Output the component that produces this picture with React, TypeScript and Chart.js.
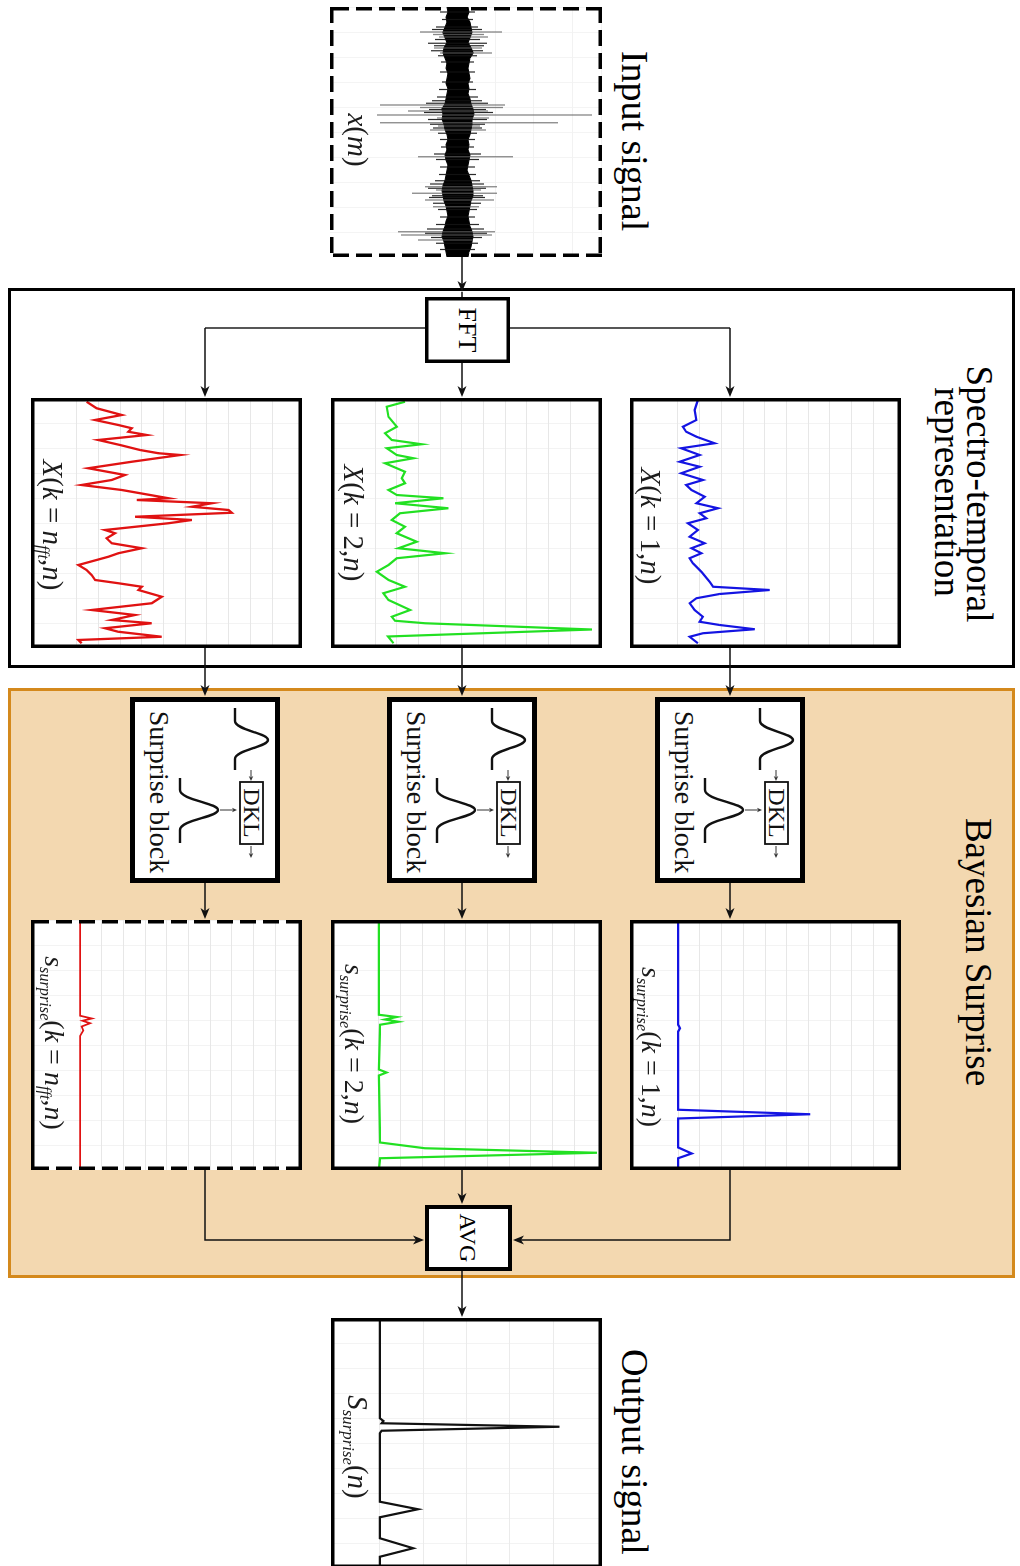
import React, { useEffect, useRef } from "react";
import { Chart, registerables } from "chart.js";

Chart.register(...registerables);

// ---------------- data (time axis 0..100 across each panel) ----------------
// Input signal x(m): dense core envelope (50 equal bins), short hairs and isolated spikes
const inputBandLo = [-1.1,-1.0,-1.2,-1.1,-1.3,-1.5,-1.3,-1.1,-1.4,-1.5,-1.3,-1.1,-1.2,-1.0,-1.1,-1.2,-1.0,-1.1,-1.2,-1.3,-1.6,-1.5,-1.6,-1.4,-1.3,-1.1,-1.0,-1.2,-1.1,-1.3,-1.2,-1.0,-1.1,-1.2,-1.3,-1.5,-1.6,-1.5,-1.4,-1.2,-1.1,-1.0,-1.2,-1.3,-1.5,-1.6,-1.4,-1.3,-1.2,-1.1];
const inputBandHi = [1.0,1.1,0.9,1.2,1.3,1.4,1.2,1.0,1.3,1.5,1.2,1.1,1.0,1.1,1.2,1.0,1.1,1.0,1.2,1.3,1.5,1.6,1.4,1.4,1.3,1.2,1.0,1.1,1.0,1.2,1.1,1.0,0.9,1.1,1.3,1.4,1.5,1.5,1.3,1.2,1.1,1.0,1.1,1.2,1.4,1.5,1.4,1.3,1.1,1.0];
const hairT = [2,5,8,9,13,14.5,15.5,17.5,19.5,22,26,30,33,36,37.5,38.5,41,42.2,45,46.9,48.4,50.5,53,56,58.8,61,64,67,69.5,70.8,72.5,75.5,76.2,78.5,81,84,87,88.8,90.5,92.2,94.5,97];
const hairLo = [-1.8,-1.6,-2.2,-2.6,-2.3,-3.0,-2.4,-2.7,-2.0,-1.7,-1.8,-1.6,-1.9,-2.1,-2.6,-3.2,-2.9,-3.4,-3.0,-2.8,-2.5,-2.0,-1.8,-1.7,-2.4,-2.2,-1.8,-1.9,-2.3,-2.8,-3.0,-2.6,-2.9,-2.5,-2.0,-1.8,-2.2,-3.1,-3.3,-2.7,-2.2,-1.8];
const hairHi = [1.7,1.5,2.0,2.4,2.2,2.9,2.6,2.5,1.9,1.6,1.7,1.5,1.8,2.0,2.4,3.0,2.8,3.5,2.9,2.7,2.4,1.9,1.7,1.6,2.3,2.1,1.7,1.8,2.2,2.6,2.8,2.5,2.7,2.3,1.9,1.7,2.1,2.6,2.9,2.4,2.0,1.7];
const spikeT = [10.0,11.0,12.0,16.4,18.4,39.2,40.2,41.6,43.2,44.4,46.3,47.6,49.2,59.9,71.9,73.2,74.5,77.2,79.9,89.9,91.2,93.2];
const spikeLo = [-3.8,-2.5,-1.9,-2.4,-1.8,-7.8,-3.8,-5.0,-8.1,-2.1,-7.8,-2.0,-2.8,-4.0,-3.3,-2.2,-4.6,-3.3,-2.5,-6.0,-5.7,-4.0];
const spikeHi = [4.4,2.6,3.0,2.4,3.4,4.7,4.5,3.0,13.4,3.1,10.0,2.2,2.8,5.5,3.9,2.3,3.9,3.6,2.1,3.7,3.4,1.5];

// Spectro-temporal bins X(k, n)
const blueXT = [0.8,4.8,8.8,11.5,13.5,15.5,18.1,20.1,22.8,25.5,27.5,30.1,32.8,34.8,36.8,39.5,42.1,44.1,46.1,48.1,50.1,52.8,55.5,58.1,60.1,62.1,64.1,66.1,69.5,73.5,75.5,76.8,78.4,80.1,82.1,84.8,87.5,89.5,90.8,92.5,94.1,95.5,98.1];
const blueXV = [0.92,0.77,0.85,0.23,0.38,0.85,1.69,0.15,1.0,0.08,1.0,0.15,1.15,0.38,0.62,1.23,0.85,1.85,1.0,1.31,0.46,0.92,0.54,1.23,0.62,1.08,0.54,0.69,1.08,1.46,1.62,4.23,1.92,0.85,0.54,0.77,1.15,1.0,1.92,3.54,1.15,0.54,0.92];
const greenXT = [1.5,3.5,7.5,11.5,14.1,16.8,18.5,20.1,22.8,24.1,26.1,29.5,32.1,34.1,36.8,38.8,40.1,42.1,44.1,46.1,48.8,51.5,54.1,57.5,60.1,62.1,64.1,66.8,69.5,72.8,75.5,78.1,80.8,84.8,87.5,89.1,90.1,92.6,95.4,98.1];
const greenXV = [1.38,0.54,0.62,1.0,0.46,0.77,2.15,0.54,1.0,1.77,0.46,1.38,1.23,1.38,0.62,1.0,3.15,0.92,3.38,1.15,0.77,1.38,1.0,1.92,1.08,3.23,1.0,0.62,0.08,0.62,1.38,0.38,0.62,1.62,0.77,0.92,2.3,10.0,0.6,0.85];
const redXT = [1.5,4.1,6.8,8.8,10.8,12.1,13.5,14.8,16.8,18.8,20.8,22.1,22.8,25.5,28.1,30.8,32.8,34.8,36.8,40.1,40.8,42.1,43.5,44.8,45.9,47.5,48.8,50.1,52.8,54.1,56.1,58.1,60.1,62.1,63.5,66.8,68.8,70.8,72.8,74.1,75.5,76.8,79.5,82.1,84.8,86.8,88.8,90.1,92.1,93.5,95.5,96.8,98.1];
const redXV = [0.46,0.92,2.08,0.85,1.92,2.54,2.38,3.23,1.0,2.0,2.92,3.77,4.77,2.54,0.54,2.23,1.62,0.23,2.08,4.23,2.77,6.23,5.31,7.0,7.15,2.69,5.31,4.23,1.31,1.77,1.38,1.62,3.0,1.92,1.46,0.08,0.46,0.69,0.85,1.92,3.0,2.85,3.92,3.46,0.69,2.69,1.62,3.46,1.31,1.92,3.92,0.08,0.23];

// Surprise per bin s_surprise(k, n)
const sBlueT = [0,41.9,43.3,44.6,75.9,77.7,79.4,91.0,93.4,95.3,100];
const sBlueV = [0,0,0.08,0,0,6.08,0,0,0.62,0,0];
const sGreenT = [0,37.9,38.8,39.8,40.7,41.9,59.8,61.0,62.2,89.0,91.3,93.1,95.3,100];
const sGreenV = [0,0,0.82,0.28,0.89,0.05,0,0.35,0,0.05,2.12,10.05,0.05,0];
const sRedT = [0,38.3,39.4,40.3,41.3,42.6,44.2,46.4,100];
const sRedV = [0,0,0.54,0.11,0.46,0.08,0.15,0,0];

// Output S_surprise(n)
const outT = [0,40.1,41.2,42.1,43.5,45.1,46.1,73.5,76.5,79.7,88.1,92.1,95.5,100];
const outV = [0,0,0.08,0.04,4.15,0.04,0,0,0.88,0,0,0.77,0,0];

// ---------------- helpers ----------------
const W = 1566;
const H = 1020;
const SERIF = '"Liberation Serif", "Times New Roman", Times, "DejaVu Serif", serif';
const BLUE = "#1414e2";
const GREEN = "#22e022";
const RED = "#e01212";

const pts = (t: number[], v: number[]) => t.map((x, i) => ({ x, y: v[i] }));

function segPts(t: number[], lo: number[], hi: number[]) {
  const out: { x: number; y: number | null }[] = [];
  t.forEach((x, i) => {
    out.push({ x, y: lo[i] }, { x, y: hi[i] }, { x, y: null });
  });
  return out;
}

type PlotProps = {
  u: number;
  v: number;
  w: number;
  h: number;
  yMin: number;
  yMax: number;
  yStep: number;
  datasets: any[];
  gridColor: string;
  xGridColor: string;
  dashAll?: boolean;
  dashSides?: boolean;
  label: React.ReactNode;
  labelU: number;
  labelB: number;
  labelSize: number;
};

function Frame({ w, h, sw, dashAll, dashSides }: { w: number; h: number; sw: number; dashAll?: boolean; dashSides?: boolean }) {
  const half = sw / 2;
  const dash = "16 7";
  const common = { stroke: "#000", strokeWidth: sw };
  return (
    <svg width={w} height={h} style={{ position: "absolute", left: 0, top: 0, overflow: "visible" }}>
      <line x1={0} y1={half} x2={w} y2={half} {...common} strokeDasharray={dashAll ? dash : undefined} />
      <line x1={0} y1={h - half} x2={w} y2={h - half} {...common} strokeDasharray={dashAll ? dash : undefined} />
      <line x1={half} y1={0} x2={half} y2={h} {...common} strokeDasharray={dashAll || dashSides ? dash : undefined} />
      <line x1={w - half} y1={0} x2={w - half} y2={h} {...common} strokeDasharray={dashAll || dashSides ? dash : undefined} />
    </svg>
  );
}

function PlotBox(p: PlotProps) {
  const ref = useRef<HTMLCanvasElement>(null);
  useEffect(() => {
    const chart = new Chart(ref.current as HTMLCanvasElement, {
      type: "line",
      data: { datasets: p.datasets },
      options: {
        animation: false,
        responsive: false,
        devicePixelRatio: 1,
        events: [],
        layout: { padding: 0 },
        plugins: { legend: { display: false }, tooltip: { enabled: false } },
        elements: { point: { radius: 0 }, line: { tension: 0 } },
        scales: {
          x: {
            type: "linear",
            min: 0,
            max: 100,
            ticks: { display: false, stepSize: 10 },
            grid: { color: p.xGridColor, drawTicks: false, lineWidth: 1 },
            border: { display: false },
          },
          y: {
            type: "linear",
            min: p.yMin,
            max: p.yMax,
            ticks: { display: false, stepSize: p.yStep },
            grid: {
              color: (c: any) => (c.tick && c.tick.value < -1e-6 ? "rgba(0,0,0,0)" : p.gridColor),
              drawTicks: false,
              lineWidth: 1,
            },
            border: { display: false },
          },
        },
      } as any,
    });
    return () => chart.destroy();
  }, []);
  return (
    <div style={{ position: "absolute", left: p.u, top: p.v, width: p.w, height: p.h, background: "#fff" }}>
      <canvas ref={ref} width={p.w} height={p.h} style={{ position: "absolute", left: 0, top: 0, width: p.w, height: p.h }} />
      <div
        style={{
          position: "absolute",
          left: p.labelU,
          top: p.h - p.labelB,
          transform: "translate(-50%, -50%)",
          fontSize: p.labelSize,
          lineHeight: 1,
          whiteSpace: "nowrap",
          color: "#1c1c1c",
          fontFamily: SERIF,
        }}
      >
        {p.label}
      </div>
      <Frame w={p.w} h={p.h} sw={3.5} dashAll={p.dashAll} dashSides={p.dashSides} />
    </div>
  );
}

const subS: React.CSSProperties = { fontSize: "0.58em", verticalAlign: "-0.3em", lineHeight: 0, fontStyle: "italic" };

function lineDs(t: number[], v: number[], color: string, width = 2) {
  return { data: pts(t, v), borderColor: color, borderWidth: width, fill: false, pointRadius: 0 };
}

function Txt({ cu, cv, size, children, italic }: { cu: number; cv: number; size: number; children: React.ReactNode; italic?: boolean }) {
  return (
    <div
      style={{
        position: "absolute",
        left: cu,
        top: cv,
        transform: "translate(-50%, -50%)",
        fontSize: size,
        lineHeight: 1,
        whiteSpace: "nowrap",
        fontStyle: italic ? "italic" : "normal",
        color: "#000",
        fontFamily: SERIF,
      }}
    >
      {children}
    </div>
  );
}

function head(tip: [number, number], dir: [number, number], len = 11, hw = 4.5, notch = 8) {
  const [x, y] = tip;
  const [dx, dy] = dir;
  const px = -dy;
  const py = dx;
  const bx = x - len * dx;
  const by = y - len * dy;
  const nx = x - notch * dx;
  const ny = y - notch * dy;
  return `${x},${y} ${bx + hw * px},${by + hw * py} ${nx},${ny} ${bx - hw * px},${by - hw * py}`;
}

function Arrow({ path, color = "#111", sw = 1.5, len = 11, hw = 4.5 }: { path: [number, number][]; color?: string; sw?: number; len?: number; hw?: number }) {
  const n = path.length;
  const a = path[n - 2];
  const b = path[n - 1];
  const L = Math.hypot(b[0] - a[0], b[1] - a[1]);
  const dir: [number, number] = [(b[0] - a[0]) / L, (b[1] - a[1]) / L];
  const shortened = path.slice(0, n - 1).concat([[b[0] - dir[0] * len * 0.7, b[1] - dir[1] * len * 0.7]]);
  return (
    <g>
      <polyline points={shortened.map((p) => p.join(",")).join(" ")} fill="none" stroke={color} strokeWidth={sw} />
      <polygon points={head(b, dir, len, hw, len * 0.72)} fill={color} />
    </g>
  );
}

function SurpriseBlock({ u, v }: { u: number; v: number }) {
  const w = 186;
  const h = 150;
  return (
    <div style={{ position: "absolute", left: u, top: v, width: w, height: h, background: "#fff" }}>
      <svg width={w} height={h} style={{ position: "absolute", left: 0, top: 0 }}>
        <rect x={2.5} y={2.5} width={w - 5} height={h - 5} fill="#fff" stroke="#000" strokeWidth={5} />
        <path d="M11 45 L24 45 C33 45 36 12 43 12 C50 12 53 45 62 45 L73 45" fill="none" stroke="#111" strokeWidth={2.4} />
        <path d="M81 100 L93 100 C103 100 106 62 113 62 C120 62 123 100 133 100 L146 100" fill="none" stroke="#111" strokeWidth={2.4} />
        <rect x={85} y={17} width={62} height={23} fill="#fff" stroke="#111" strokeWidth={1.8} />
        <text x={116} y={36.5} textAnchor="middle" fontFamily={SERIF} fontSize={24} fill="#111">DKL</text>
        <Arrow path={[[73, 29], [84, 29]]} sw={1} len={5} hw={2.3} color="#333" />
        <Arrow path={[[113, 60], [113, 43]]} sw={1} len={5} hw={2.3} color="#333" />
        <Arrow path={[[149, 29], [161, 29]]} sw={1} len={5} hw={2.3} color="#333" />
        <text x={95} y={130} textAnchor="middle" fontFamily={SERIF} fontSize={28} fill="#111">Surprise block</text>
      </svg>
    </div>
  );
}

function LabelBox({ u, v, w, h, sw, text, size }: { u: number; v: number; w: number; h: number; sw: number; text: string; size: number }) {
  return (
    <div style={{ position: "absolute", left: u, top: v, width: w, height: h, background: "#fff" }}>
      <svg width={w} height={h} style={{ position: "absolute", left: 0, top: 0 }}>
        <rect x={sw / 2} y={sw / 2} width={w - sw} height={h - sw} fill="#fff" stroke="#000" strokeWidth={sw} />
      </svg>
      <Txt cu={w / 2} cv={h / 2} size={size}>{text}</Txt>
    </div>
  );
}

// ---------------- component ----------------
export default function App() {
  const bandT = inputBandLo.map((_, i) => (i * 100) / (inputBandLo.length - 1));
  const inputDatasets = [
    { data: segPts(spikeT, spikeLo, spikeHi), borderColor: "rgba(95,95,95,0.75)", borderWidth: 1.3, fill: false, spanGaps: false, pointRadius: 0 },
    { data: segPts(hairT, hairLo, hairHi), borderColor: "rgba(20,20,20,0.9)", borderWidth: 1.2, fill: false, spanGaps: false, pointRadius: 0 },
    { data: pts(bandT, inputBandHi), borderColor: "#000", borderWidth: 1.2, fill: false, pointRadius: 0 },
    { data: pts(bandT, inputBandLo), borderColor: "#000", borderWidth: 1.2, fill: "-1", backgroundColor: "#000", pointRadius: 0 },
  ];

  const XGRID = "#f3f3f3";
  const YGRID = "#e7e7e7";
  const PW = 250;
  const PH = 271;

  return (
    <div style={{ position: "absolute", left: 0, top: 0, width: 1020, height: 1566, overflow: "hidden", background: "#fff" }}>
      <div
        style={{
          position: "absolute",
          left: 0,
          top: 0,
          width: W,
          height: H,
          transformOrigin: "0 0",
          transform: "translate(1020px, 0px) rotate(90deg)",
          fontFamily: SERIF,
        }}
      >
        {/* background frames */}
        <svg width={W} height={H} style={{ position: "absolute", left: 0, top: 0 }}>
          <rect x={289.5} y={6.5} width={377} height={1004} fill="#fff" stroke="#000" strokeWidth={3} />
          <rect x={689.5} y={6.5} width={587} height={1004} fill="#f3d8b0" stroke="#d4891c" strokeWidth={3} />
        </svg>

        {/* titles */}
        <Txt cu={141} cv={385} size={38}>Input signal</Txt>
        <Txt cu={494} cv={41} size={37}>Spectro-temporal</Txt>
        <Txt cu={492} cv={73} size={37}>representation</Txt>
        <Txt cu={952} cv={42} size={37}>Bayesian Surprise</Txt>
        <Txt cu={1452} cv={385} size={38}>Output signal</Txt>

        {/* input */}
        <PlotBox
          u={7} v={418} w={PW} h={272}
          yMin={-12.8} yMax={14.4} yStep={3.8}
          datasets={inputDatasets}
          gridColor="#f2f2f2" xGridColor="#f4f4f4"
          dashAll
          label={<><i>x</i>(<i>m</i>)</>}
          labelU={133} labelB={28} labelSize={29}
        />

        {/* FFT */}
        <LabelBox u={297} v={510} w={66} h={85} sw={3.5} text="FFT" size={26} />

        {/* X plots */}
        <PlotBox
          u={398} v={119} w={PW} h={PH}
          yMin={-2.21} yMax={10.28} yStep={1}
          datasets={[lineDs(blueXT, blueXV, BLUE, 2.2)]}
          gridColor={YGRID} xGridColor={XGRID}
          label={<><i>X</i>(<i>k</i> = 1,<i>n</i>)</>}
          labelU={128} labelB={21} labelSize={29}
        />
        <PlotBox
          u={398} v={418} w={PW} h={PH}
          yMin={-2.03} yMax={10.46} yStep={1}
          datasets={[lineDs(greenXT, greenXV, GREEN, 2.2)]}
          gridColor={YGRID} xGridColor={XGRID}
          label={<><i>X</i>(<i>k</i> = 2,<i>n</i>)</>}
          labelU={125} labelB={23} labelSize={29}
        />
        <PlotBox
          u={398} v={718} w={PW} h={PH}
          yMin={-2.1} yMax={10.38} yStep={1}
          datasets={[lineDs(redXT, redXV, RED, 2.3)]}
          gridColor={YGRID} xGridColor={XGRID}
          label={<><i>X</i>(<i>k</i> = <i>n</i><sub style={subS}>fft</sub>,<i>n</i>)</>}
          labelU={127} labelB={22} labelSize={29}
        />

        {/* surprise blocks */}
        <SurpriseBlock u={697} v={215} />
        <SurpriseBlock u={697} v={483} />
        <SurpriseBlock u={697} v={740} />

        {/* surprise plots */}
        <PlotBox
          u={920} v={119} w={PW} h={PH}
          yMin={-2.22} yMax={10.26} yStep={1}
          datasets={[lineDs(sBlueT, sBlueV, BLUE, 2.2)]}
          gridColor={YGRID} xGridColor={XGRID}
          label={<><i>s</i><sub style={subS}>surprise</sub>(<i>k</i> = 1,<i>n</i>)</>}
          labelU={127} labelB={21} labelSize={28}
        />
        <PlotBox
          u={920} v={418} w={PW} h={PH}
          yMin={-2.21} yMax={10.28} yStep={1}
          datasets={[lineDs(sGreenT, sGreenV, GREEN, 2.2)]}
          gridColor={YGRID} xGridColor={XGRID}
          label={<><i>s</i><sub style={subS}>surprise</sub>(<i>k</i> = 2,<i>n</i>)</>}
          labelU={124} labelB={23} labelSize={28}
        />
        <PlotBox
          u={920} v={718} w={PW} h={PH}
          yMin={-2.26} yMax={10.23} yStep={1}
          datasets={[lineDs(sRedT, sRedV, RED, 1.8)]}
          gridColor={YGRID} xGridColor={XGRID}
          dashSides
          label={<><i>s</i><sub style={subS}>surprise</sub>(<i>k</i> = <i>n</i><sub style={subS}>fft</sub>,<i>n</i>)</>}
          labelU={123} labelB={23} labelSize={28}
        />

        {/* AVG */}
        <LabelBox u={1205} v={508} w={66} h={87} sw={4} text="AVG" size={24} />

        {/* output */}
        <PlotBox
          u={1318} v={418} w={PW} h={PH}
          yMin={-1.13} yMax={5.13} yStep={1}
          datasets={[lineDs(outT, outV, "#111", 2.2)]}
          gridColor="#ebebeb" xGridColor={XGRID}
          label={<><i>S</i><sub style={subS}>surprise</sub>(<i>n</i>)</>}
          labelU={129} labelB={27} labelSize={29}
        />

        {/* arrows */}
        <svg width={W} height={H} style={{ position: "absolute", left: 0, top: 0, pointerEvents: "none" }}>
          <Arrow path={[[257, 558], [292, 558]]} />
          <line x1={292} y1={558} x2={297} y2={558} stroke="#111" strokeWidth={1.5} />
          <polyline points="328,510 328,290" fill="none" stroke="#444" strokeWidth={1.8} />
          <polyline points="328,595 328,815" fill="none" stroke="#444" strokeWidth={1.8} />
          <Arrow path={[[328, 290], [397, 290]]} />
          <Arrow path={[[328, 815], [397, 815]]} />
          <Arrow path={[[363, 558], [397, 558]]} />
          {[290, 558, 815].map((v) => (
            <g key={v}>
              <Arrow path={[[648, v], [696, v]]} />
              <Arrow path={[[883, v], [919, v]]} />
            </g>
          ))}
          <Arrow path={[[1170, 558], [1204, 558]]} />
          <Arrow path={[[1170, 290], [1240, 290], [1240, 507]]} />
          <Arrow path={[[1170, 815], [1240, 815], [1240, 596]]} />
          <Arrow path={[[1271, 558], [1317, 558]]} />
        </svg>
      </div>
    </div>
  );
}
